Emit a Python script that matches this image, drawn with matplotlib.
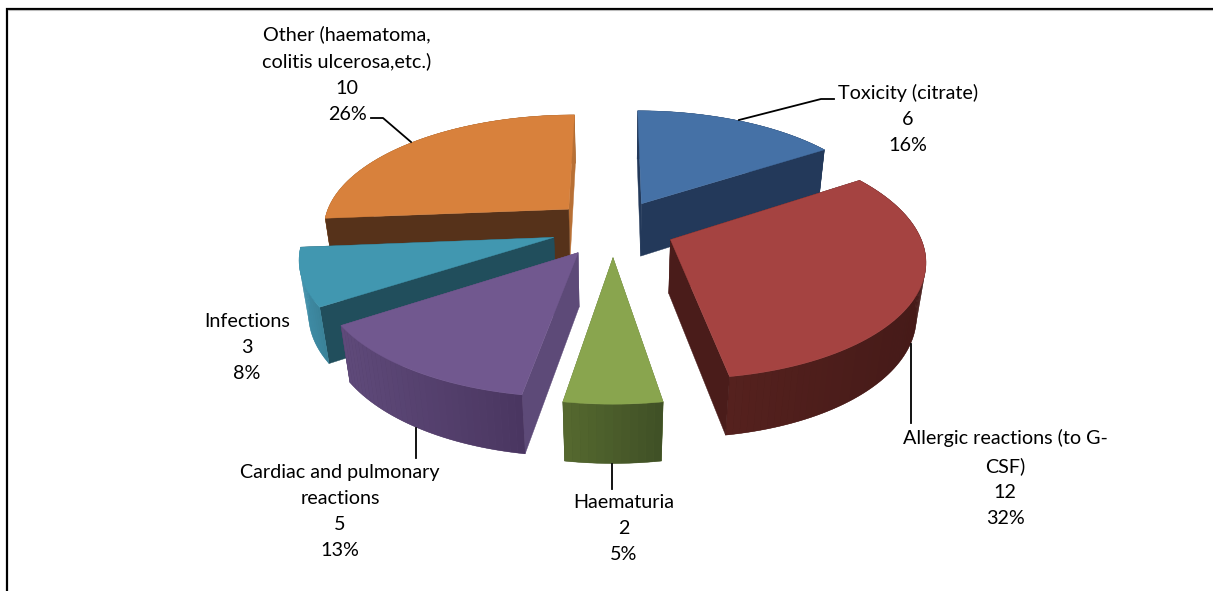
"""
Exploded 3D pie of adverse events, drawn as projected polygons.
"""
import numpy as np
import matplotlib
matplotlib.use("Agg")
import matplotlib.pyplot as plt
from matplotlib.colors import to_rgb

labels = [
    "Toxicity (citrate)",
    "Allergic reactions (to G-\nCSF)",
    "Haematuria",
    "Cardiac and pulmonary\nreactions",
    "Infections",
    "Other (haematoma,\ncolitis ulcerosa,etc.)",
]
values = [6, 12, 2, 5, 3, 10]

top_colors = ["#4571a6", "#a54341", "#89a54e", "#71588f", "#4197b0", "#d8813c"]
start_wall = ["#23395a", "#4a1c1a", "#5e7335", "#5d4a78", "#214e5c", "#56321a"]
end_wall = ["#23395a", "#4a1c1a", "#5e7335", "#5d4a78", "#214e5c", "#b87035"]
outer_light = ["#2b4669", "#55211e", "#56692f", "#5f4a7a", "#3f8ea8", "#a86a32"]
outer_dark = ["#23395a", "#451a18", "#3f5026", "#4a3660", "#3a8198", "#8a5528"]

label_xy = [(908, 92), (1005, 437), (624, 502), (340, 472), (247, 321), (347, 33)]
leaders = [
    [(739, 120), (821, 99), (834, 99)],
    [(911, 344), (911, 423)],
    [(612, 464), (612, 489)],
    [(416, 428), (416, 458)],
    None,
    [(371, 118), (383, 118), (411, 142)],
]

# projection of the pie plane onto the picture
CX, CY = 613, 228
RX, RY = 247, 114
PERSP = 0.153
DEPTH = 55
TAPER = 0.03
EXPLODE = 0.25


def project(u, v, z):
    w = 1 + PERSP * v + TAPER * z
    return CX + RX * u / w, CY + (-RY * v + DEPTH * z) / w


def mix(c1, c2, t):
    a, b = np.array(to_rgb(c1)), np.array(to_rgb(c2))
    return tuple(a + (b - a) * t)


def draw_slice(ax, t1, t2, i):
    mid = (t1 + t2) / 2
    ou, ov = EXPLODE * np.sin(mid), EXPLODE * np.cos(mid)
    th = np.linspace(t1, t2, max(int((t2 - t1) * 40), 6))
    us, vs = ou + np.sin(th), ov + np.cos(th)
    top_x, top_y = project(us, vs, 0)
    low_x, low_y = project(us, vs, 1)

    def draw_outer():
        # plain wall underneath, so the strip seams do not show
        ax.fill(np.r_[top_x, low_x[::-1]], np.r_[top_y, low_y[::-1]],
                color=mix(outer_light[i], outer_dark[i], 0.5), lw=0.3)
        span = max(top_x.max() - top_x.min(), 1)
        for k in range(len(th) - 1):
            frac = ((top_x[k] + top_x[k + 1]) / 2 - top_x.min()) / span
            ax.fill([top_x[k], top_x[k + 1], low_x[k + 1], low_x[k]],
                    [top_y[k], top_y[k + 1], low_y[k + 1], low_y[k]],
                    color=mix(outer_light[i], outer_dark[i], frac), lw=0)

    def radial(uu, vv, col):
        def draw():
            p = [project(ou, ov, 0), project(uu, vv, 0), project(uu, vv, 1), project(ou, ov, 1)]
            xs, ys = zip(*p)
            ax.fill(xs, ys, color=col, lw=0.3)
        return draw

    parts = [
        ((ov + vs[0]) / 2, radial(us[0], vs[0], start_wall[i])),
        ((ov + vs[-1]) / 2, radial(us[-1], vs[-1], end_wall[i])),
        (vs.mean(), draw_outer),
    ]
    for _, draw in sorted(parts, key=lambda p: -p[0]):
        draw()

    xs, ys = project(np.r_[ou, us], np.r_[ov, vs], 0)
    ax.fill(xs, ys, color=top_colors[i], lw=0.3)


def main():
    plt.rcParams["font.family"] = ["Lato", "DejaVu Sans"]
    fig = plt.figure(figsize=(12.13, 5.91), dpi=100)
    ax = fig.add_axes([0, 0, 1, 1])
    ax.set_xlim(0, 1213)
    ax.set_ylim(591, 0)
    ax.axis("off")

    # page frame
    ax.plot([6.5, 6.5, 1213], [591, 8.5, 8.5], color="black", lw=1.6, solid_joinstyle="miter")
    ax.plot([8, 1213], [10, 10], color="#bbbbbb", lw=0.8)

    total = sum(values)
    edges = 2 * np.pi * np.cumsum([0] + values) / total
    mids = (edges[:-1] + edges[1:]) / 2
    # back slices first, front slices over them
    for i in np.argsort(-np.cos(mids)):
        draw_slice(ax, edges[i], edges[i + 1], i)

    for line in leaders:
        if line is not None:
            xs, ys = zip(*line)
            ax.plot(xs, ys, color="black", lw=1.3)

    for name, val, (x, y) in zip(labels, values, label_xy):
        pct = round(100 * val / total)
        ax.text(x, y - 8, f"{name}\n{val}\n{pct}%", ha="center", va="top",
                fontsize=14.2, color="black", linespacing=1.65)

    fig.savefig("out.png", dpi=100)


if __name__ == "__main__":
    main()
